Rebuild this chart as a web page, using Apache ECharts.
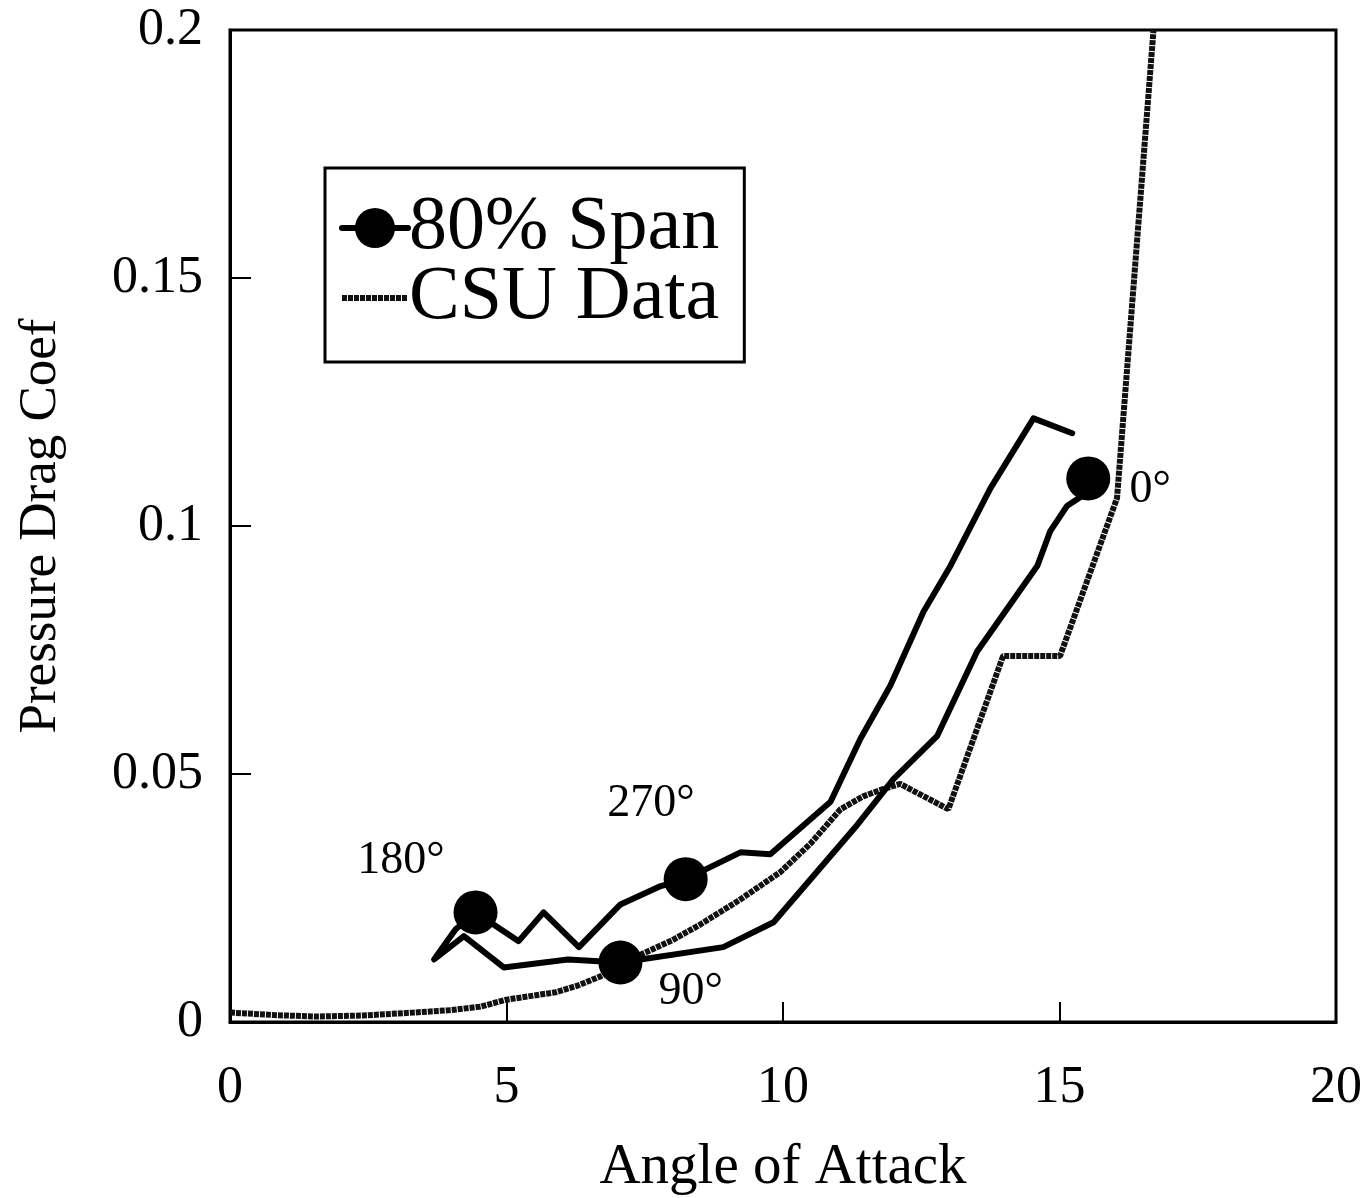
<!DOCTYPE html>
<html>
<head>
<meta charset="utf-8">
<script src="https://cdn.jsdelivr.net/npm/echarts@6/dist/echarts.min.js"></script>
<style>html,body{margin:0;padding:0;background:#fff}#c{width:1365px;height:1198px}</style>
</head>
<body>
<div id="c"></div>
<script>
// ---- data ----
const spanAngle = [15.52, 15.43, 15.14, 14.83, 14.60, 13.51, 12.79, 12.00, 11.31, 9.83, 8.92, 7.06, 6.11, 4.95, 4.23, 3.69, 4.08, 4.44, 5.22, 5.67, 6.31, 7.06, 7.79, 8.24, 9.23, 9.77, 10.86, 11.40, 11.94, 12.54, 13.03, 13.75, 14.53, 15.23];
const spanCoef  = [0.1096, 0.1062, 0.1041, 0.0989, 0.0920, 0.0747, 0.0577, 0.0490, 0.0393, 0.0201, 0.0151, 0.0120, 0.0126, 0.0110, 0.0173, 0.0126, 0.0187, 0.0221, 0.0163, 0.0221, 0.0151, 0.0237, 0.0274, 0.0288, 0.0342, 0.0338, 0.0444, 0.0571, 0.0678, 0.0827, 0.0920, 0.1076, 0.1217, 0.1187];
const spanMarkerIdx = [0, 11, 17, 23];

const csuAngle = [0, 0.8, 1.52, 2.4, 3.32, 4.0, 4.53, 5.0, 5.89, 6.30, 6.70, 7.43, 8.0, 8.51, 9.2, 9.95, 10.5, 11.04, 11.45, 11.82, 12.12, 12.99, 13.98, 15.01, 16.04, 16.70];
const csuCoef  = [0.0019, 0.0014, 0.0011, 0.0013, 0.0019, 0.0024, 0.0031, 0.0045, 0.0060, 0.0074, 0.0092, 0.0136, 0.0165, 0.0197, 0.0245, 0.0302, 0.0360, 0.0429, 0.0455, 0.0470, 0.0480, 0.0429, 0.0738, 0.0738, 0.1056, 0.2000];

const noteText  = ['180°', '270°', '90°', '0°'];
const noteAngle = [3.09, 7.61, 8.33, 16.64];
const noteCoef  = [0.0325, 0.0440, 0.0060, 0.1072];

// ---- build ----
const font = '"Liberation Serif", "DejaVu Serif", serif';
const spanData = spanAngle.map((a, i) => spanMarkerIdx.includes(i)
  ? { value: [a, spanCoef[i]] }
  : { value: [a, spanCoef[i]], symbol: 'none' });
const csuData = csuAngle.map((a, i) => [a, csuCoef[i]]);
const notes = noteText.map((t, i) => ({
  coord: [noteAngle[i], noteCoef[i]],
  symbol: 'circle', symbolSize: 0,
  label: { show: true, formatter: t, position: 'inside', color: '#000', fontFamily: font, fontSize: 46 }
}));

const chart = echarts.init(document.getElementById('c'), null, { renderer: 'canvas' });
chart.setOption({
  backgroundColor: '#fff',
  animation: false,
  grid: { left: 230, right: 29, top: 30, bottom: 176, outerBoundsMode: 'none', containLabel: false,
          show: true, borderColor: '#000', borderWidth: 3, backgroundColor: 'transparent' },
  legend: {
    orient: 'vertical', left: 325, top: 168,
    padding: [22, 25, 26, 14], itemGap: -6,
    itemWidth: 66, itemHeight: 50,
    borderColor: '#000', borderWidth: 3,
    textStyle: { fontFamily: font, fontSize: 76, color: '#000', padding: [0, 0, 0, -4] },
    data: [
      { name: '80% Span', lineStyle: { width: 6, color: '#000' } },
      { name: 'CSU Data', itemStyle: { opacity: 0 }, lineStyle: { width: 6, color: '#111', type: [5, 1] } }
    ]
  },
  xAxis: {
    type: 'value', min: 0, max: 20, interval: 5,
    name: 'Angle of Attack', nameLocation: 'middle', nameGap: 118,
    nameTextStyle: { fontFamily: font, fontSize: 57, color: '#000' },
    axisLine: { lineStyle: { color: '#000', width: 3 } },
    axisTick: { inside: true, length: 20, lineStyle: { color: '#000', width: 2 } },
    axisLabel: { fontFamily: font, fontSize: 52, color: '#000', margin: 40 },
    splitLine: { show: false }
  },
  yAxis: {
    type: 'value', min: 0, max: 0.2, interval: 0.05,
    name: 'Pressure Drag Coef', nameLocation: 'middle', nameGap: 162,
    nameTextStyle: { fontFamily: font, fontSize: 53, color: '#000' },
    axisLine: { lineStyle: { color: '#000', width: 3 } },
    axisTick: { inside: true, length: 21, lineStyle: { color: '#000', width: 2 } },
    axisLabel: { fontFamily: font, fontSize: 52, color: '#000', margin: 27 },
    splitLine: { show: false }
  },
  series: [
    {
      name: '80% Span', type: 'line', data: spanData,
      symbol: 'circle', symbolSize: 44, showAllSymbol: true,
      itemStyle: { color: '#000' },
      lineStyle: { color: '#000', width: 6, join: 'round', cap: 'round' },
      z: 3,
      markPoint: { data: notes, silent: true }
    },
    {
      name: 'CSU Data', type: 'line', data: csuData, symbol: 'none',
      itemStyle: { color: '#111' },
      lineStyle: { color: '#111', width: 6, type: [5, 1] },
      z: 2
    }
  ]
});
</script>
</body>
</html>
